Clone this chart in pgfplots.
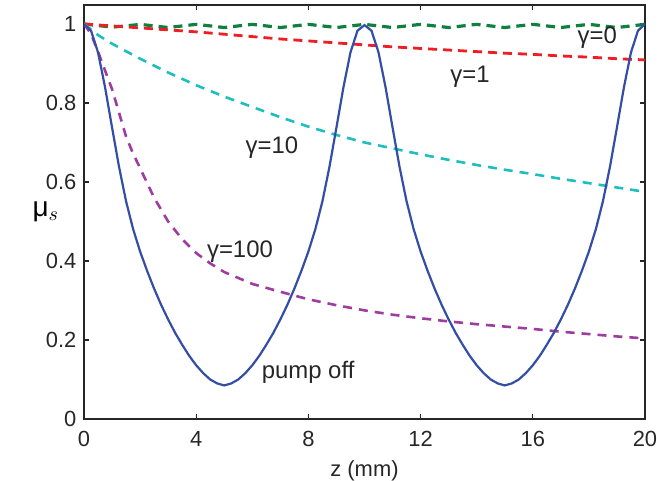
\documentclass[border=0pt]{standalone}
\usepackage{pgfplots}
\pgfplotsset{compat=1.18}
\usepackage{fontspec}
\setmainfont{Liberation Sans}

\definecolor{pumpblue}{RGB}{52,78,166}
\definecolor{gzero}{RGB}{16,128,64}
\definecolor{gone}{RGB}{238,30,36}
\definecolor{gten}{RGB}{30,190,190}
\definecolor{ghund}{RGB}{160,60,160}

\begin{document}
\begin{tikzpicture}
\begin{axis}[
    scale only axis,
    width=280.5bp, height=207bp,
    xmin=0, xmax=20, ymin=0, ymax=1.048,
    xtick={0,4,8,12,16,20},
    ytick={0,0.2,0.4,0.6,0.8,1},
    tick align=inside,
    major tick length=2.5bp,
    axis line style={line width=0.9bp, black!85},
    every tick/.style={black!85, line width=0.6bp},
    tick label style={font=\fontsize{11}{13}\selectfont, black!85},
    /pgf/number format/assume math mode=true,
    yticklabel style={xshift=-0.3bp},
    xticklabel style={yshift=-2.5bp},
    xlabel={z (mm)},
    xlabel style={font=\fontsize{11}{13}\selectfont, black!85, yshift=0bp},
    ylabel={\fontsize{14}{16}\selectfont μ$_{s}$},
    ylabel style={rotate=-90, black!85},
    every axis y label/.style={at={(ticklabel* cs:0.5)}, anchor=east, xshift=-9bp},
    clip=true,
]
% gamma = 0
\addplot[gzero, line width=1.6bp, dash pattern=on 4.5bp off 3bp] coordinates {
(0,1.000) (0.5,0.996) (1,0.992) (1.5,0.995) (2,0.999) (2.5,0.995) (3,0.991) (3.5,0.995)
(4,0.999) (4.5,0.995) (5,0.991) (5.5,0.995) (6,0.999) (6.5,0.995) (7,0.991) (7.5,0.995)
(8,0.999) (8.5,0.995) (9,0.991) (9.5,0.995) (10,0.999) (10.5,0.995) (11,0.991) (11.5,0.995)
(12,0.999) (12.5,0.995) (13,0.991) (13.5,0.995) (14,0.999) (14.5,0.995) (15,0.991) (15.5,0.995)
(16,0.999) (16.5,0.995) (17,0.991) (17.5,0.995) (18,0.999) (18.5,0.995) (19,0.991) (19.5,0.995)
(20,0.999)
};
% gamma = 1
\addplot[gone, line width=1.4bp, dash pattern=on 4.5bp off 3bp] coordinates {
(0,1.000) (1,0.995) (2,0.990) (3,0.985) (4,0.980) (5,0.974) (6,0.968) (7,0.962) (8,0.957)
(9,0.952) (10,0.947) (11,0.942) (12,0.938) (13,0.934) (14,0.930) (15,0.926) (16,0.923)
(17,0.919) (18,0.916) (19,0.912) (20,0.909)
};
% gamma = 10
\addplot[gten, line width=1.3bp, dash pattern=on 4.5bp off 3.5bp] coordinates {
(0,1.000) (0.5,0.972) (1,0.950) (1.5,0.931) (2,0.912) (3,0.877) (4,0.845) (5,0.816)
(6,0.790) (7,0.764) (8,0.740) (9,0.719) (10,0.700) (11,0.685) (12,0.670) (13,0.656)
(14,0.643) (15,0.631) (16,0.620) (17,0.608) (18,0.597) (19,0.586) (20,0.575)
};
% gamma = 100
\addplot[ghund, line width=1.3bp, dash pattern=on 4.5bp off 3.5bp] coordinates {
(0,1.000) (0.25,0.975) (0.5,0.930) (0.75,0.882) (1,0.835) (1.25,0.775) (1.5,0.715)
(1.75,0.672) (2,0.635) (2.5,0.560) (3,0.500) (3.5,0.455) (4,0.420) (4.5,0.394)
(5,0.372) (6,0.342) (7,0.322) (8,0.303) (9,0.288) (10,0.275) (11,0.264) (12,0.255)
(13,0.247) (14,0.240) (15,0.234) (16,0.228) (17,0.221) (18,0.215) (19,0.209) (20,0.204)
};
% pump off
\addplot[pumpblue, line width=1.1bp] coordinates {
(0,1.000) (0.25,0.983) (0.5,0.928) (0.75,0.840) (1,0.738) (1.25,0.638) (1.5,0.551)
(1.75,0.481) (2,0.424) (2.25,0.375) (2.5,0.330) (2.75,0.289) (3,0.252) (3.25,0.218)
(3.5,0.188) (3.75,0.160) (4,0.136) (4.25,0.116) (4.5,0.100) (4.75,0.090) (5,0.085)
(5.25,0.090) (5.5,0.100) (5.75,0.116) (6,0.136) (6.25,0.160) (6.5,0.188) (6.75,0.218)
(7,0.252) (7.25,0.289) (7.5,0.330) (7.75,0.375) (8,0.424) (8.25,0.481) (8.5,0.551)
(8.75,0.638) (9,0.738) (9.25,0.840) (9.5,0.928) (9.75,0.983) (10,0.997)
(10.25,0.983) (10.5,0.928) (10.75,0.840) (11,0.738) (11.25,0.638) (11.5,0.551)
(11.75,0.481) (12,0.424) (12.25,0.375) (12.5,0.330) (12.75,0.289) (13,0.252) (13.25,0.218)
(13.5,0.188) (13.75,0.160) (14,0.136) (14.25,0.116) (14.5,0.100) (14.75,0.090) (15,0.085)
(15.25,0.090) (15.5,0.100) (15.75,0.116) (16,0.136) (16.25,0.160) (16.5,0.188) (16.75,0.218)
(17,0.252) (17.25,0.289) (17.5,0.330) (17.75,0.375) (18,0.424) (18.25,0.481) (18.5,0.551)
(18.75,0.638) (19,0.738) (19.25,0.840) (19.5,0.928) (19.75,0.983) (20,1.000)
};
\begin{scope}[every node/.style={font=\fontsize{12}{14}\selectfont, black!85, inner sep=0pt}]
\node at (axis cs:18.3,0.965) {γ=0};
\node at (axis cs:13.76,0.866) {γ=1};
\node at (axis cs:6.7,0.686) {γ=10};
\node at (axis cs:5.56,0.423) {γ=100};
\node at (axis cs:7.99,0.119) {pump off};
\end{scope}
\end{axis}
\pgfresetboundingbox
\path (current axis.south west) ++(-42bp,-31bp) rectangle ([xshift=6bp,yshift=2.5bp]current axis.north east);
\end{tikzpicture}
\end{document}
